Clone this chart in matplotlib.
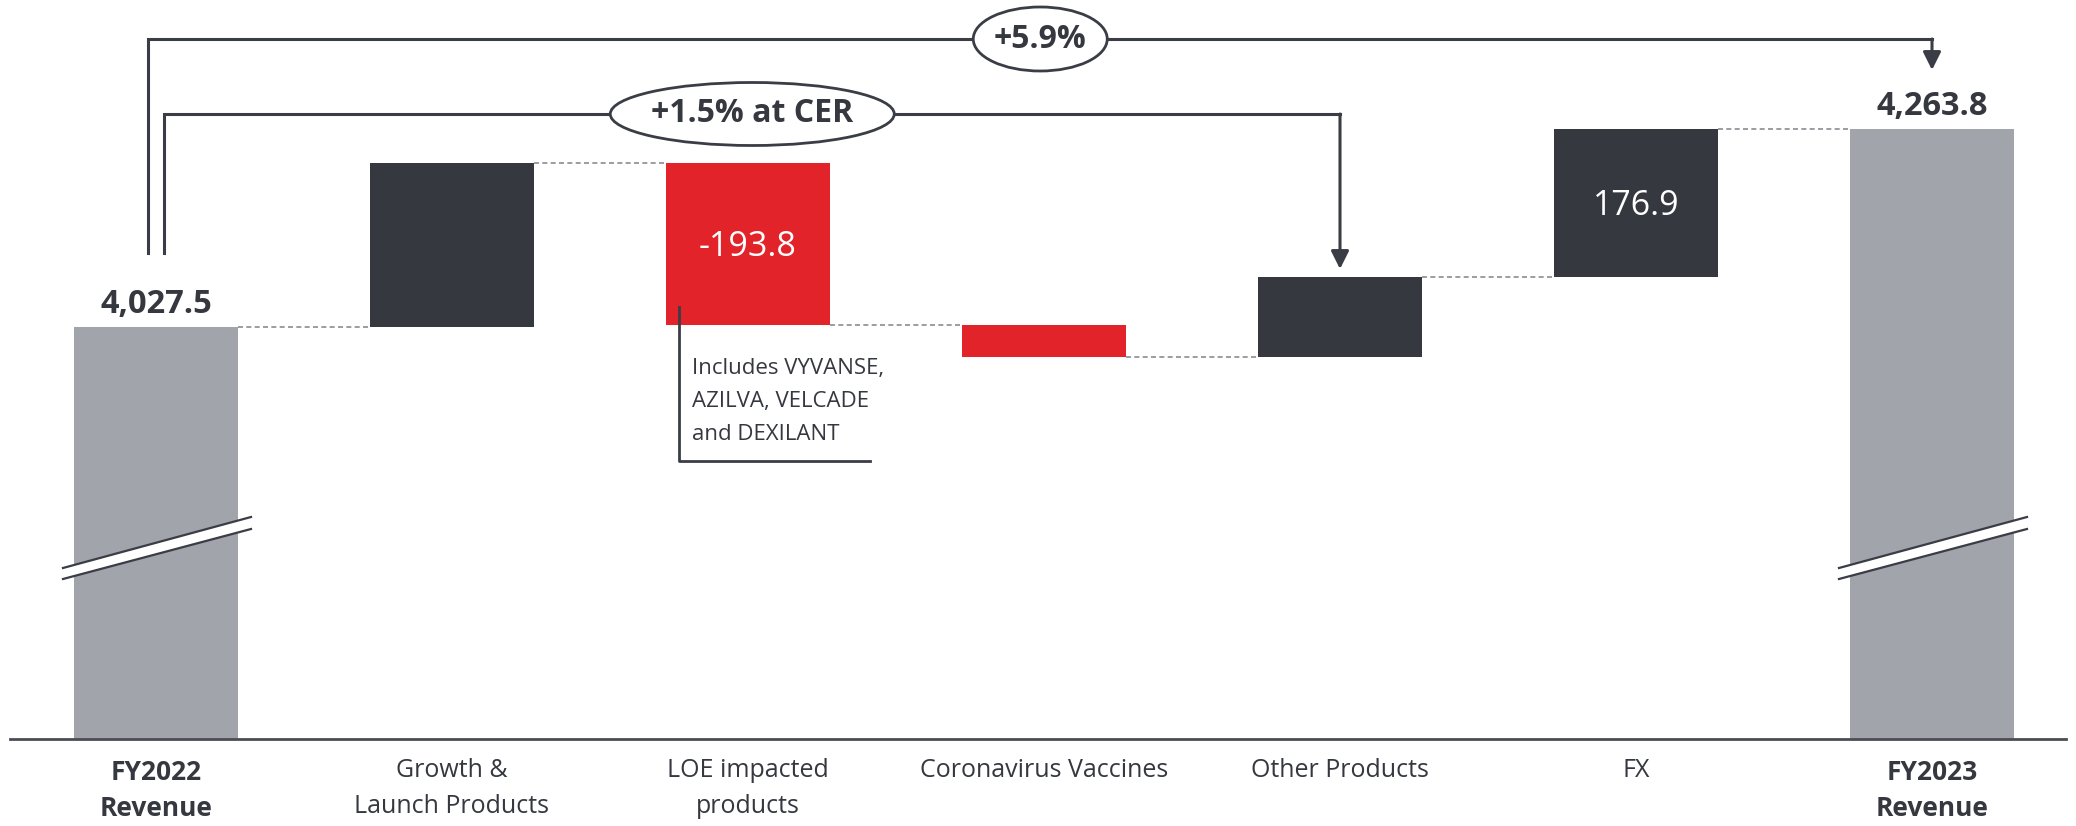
import matplotlib.pyplot as plt
from matplotlib.patches import Ellipse, Polygon

plt.rcParams['font.family'] = ['Open Sans', 'DejaVu Sans']

# 数据
categories = ['FY2022\nRevenue', 'Growth &\nLaunch Products', 'LOE impacted\nproducts',
              'Coronavirus Vaccines', 'Other Products', 'FX', 'FY2023\nRevenue']
start_total = 4027.5
end_total = 4263.8
steps = [196.5, -193.8, -38.0, 94.7, 176.9]   # 中间各项变化
step_labels = ['', '-193.8', '', '', '176.9']
growth_labels = ['+5.9%', '+1.5% at CER']
note_lines = ['Includes VYVANSE,', 'AZILVA, VELCADE', 'and DEXILANT']

GRAY = '#A2A4AC'
DARK = '#363840'
RED = '#E2232A'
LINE = '#3A3D45'

Y0, Y1 = 3536.0, 4418.0   # 断轴后的可视范围


def px2y(p):
    # 图上像素行 -> 数据 y
    return Y1 - p * (Y1 - Y0) / 739.0


def px2x(p):
    return (p - 156.0) / 296.0


fig = plt.figure(figsize=(20.76, 8.26), dpi=100)
ax = fig.add_axes([0, 87 / 826, 1, 739 / 826])
ax.set_xlim(px2x(0), px2x(2076))
ax.set_ylim(Y0, Y1)
ax.axis('off')

bw = 164 / 296
n = len(categories)

# 总计柱
for i, v in [(0, start_total), (n - 1, end_total)]:
    ax.bar(i, v - Y0, bottom=Y0, width=bw, color=GRAY, zorder=2)
    ax.annotate(f'{v:,.1f}', xy=(i, v), xytext=(0, 10), textcoords='offset points',
                ha='center', va='baseline', fontsize=23.5, fontweight='bold', color=DARK)

# 变化柱
levels = [start_total]
for s in steps:
    levels.append(levels[-1] + s)
for k, s in enumerate(steps):
    i = k + 1
    lo, hi = sorted([levels[k], levels[k + 1]])
    ax.bar(i, hi - lo, bottom=lo, width=bw, color=DARK if s > 0 else RED, zorder=2)
    if step_labels[k]:
        ax.annotate(step_labels[k], xy=(i, (lo + hi) / 2), xytext=(0, -2),
                    textcoords='offset points', ha='center', va='center',
                    fontsize=24.5, color='white', zorder=3)

# 虚线连接
levels.append(end_total)
for i in range(n - 1):
    ax.plot([i + bw / 2, i + 1 - bw / 2], [levels[i], levels[i]], color='#8A8C92',
            lw=1.2, ls=(0, (3, 2)), zorder=1)

# 底部轴线
ax.plot([px2x(10), px2x(2066)], [Y0, Y0], color='#4A4D55', lw=2, zorder=3,
        clip_on=False)

# 类别标签
for i, lab in enumerate(categories):
    bold = lab.startswith('FY')
    for j, line in enumerate(lab.split('\n')):
        off = (-29.5 - 26 * j) if bold else (-27.5 - 25.5 * j)
        ax.annotate(line, xy=(i, Y0), xytext=(0, off), textcoords='offset points',
                    ha='center', va='baseline', fontsize=19 if bold else 18,
                    fontweight='bold' if bold else 'normal', color=DARK,
                    annotation_clip=False)

# 断轴标记
for i in [0, n - 1]:
    xa, xb = i + px2x(63) - px2x(156), i + px2x(251) - px2x(156)
    ya1, yb1 = px2y(568), px2y(517)
    ya2, yb2 = px2y(579), px2y(529)
    ax.add_patch(Polygon([(xa, ya1), (xb, yb1), (xb, yb2), (xa, ya2)], closed=True,
                         facecolor='white', edgecolor='none', zorder=4))
    ax.plot([xa, xb], [ya1, yb1], color=LINE, lw=1.6, zorder=5)
    ax.plot([xa, xb], [ya2, yb2], color=LINE, lw=1.6, zorder=5)


# 增长率括号
def bracket(x0, x1, ylow, ytop, ytip, text, ew, eh):
    ax.plot([x0, x0, x1], [ylow, ytop, ytop], color=LINE, lw=2.2, zorder=3,
            solid_joinstyle='miter')
    ax.annotate('', xy=(x1, ytip), xytext=(x1, ytop),
                arrowprops=dict(arrowstyle='-|>', lw=2.2, color=LINE, mutation_scale=27,
                                shrinkA=0, shrinkB=0), zorder=3)
    cx = (x0 + x1) / 2
    ax.add_patch(Ellipse((cx, ytop), ew / 296, eh * (Y1 - Y0) / 739, facecolor='white',
                         edgecolor=LINE, lw=2, zorder=4))
    ax.text(cx, ytop, text, ha='center', va='center', fontsize=23, fontweight='bold',
            color=DARK, zorder=5)


bracket(px2x(148.5), n - 1, px2y(253), px2y(39), px2y(70), growth_labels[0], 134, 64)
bracket(px2x(164.5), 4, px2y(253), px2y(114), px2y(269), growth_labels[1], 284, 63)

# LOE 注释
ax.plot([px2x(679), px2x(679), px2x(870)], [px2y(307), px2y(461), px2y(461)],
        color=LINE, lw=2, zorder=3)
for j, line in enumerate(note_lines):
    ax.text(px2x(692), px2y(374 + 33 * j), line, ha='left', va='baseline',
            fontsize=16, color=DARK)

plt.savefig('out.png', dpi=100)
